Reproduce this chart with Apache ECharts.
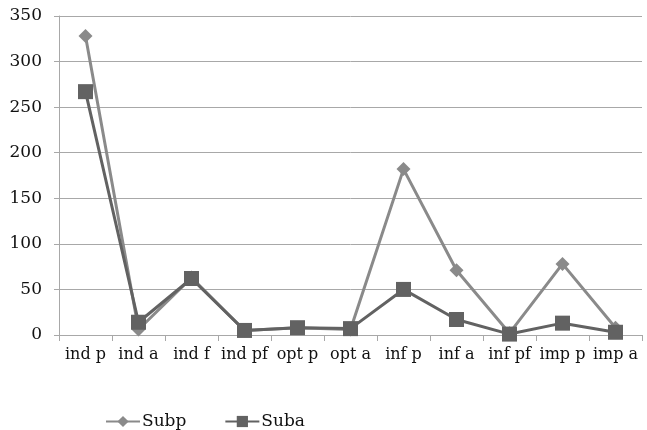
<!DOCTYPE html>
<html>
<head>
<meta charset="utf-8">
<script src="https://cdn.jsdelivr.net/npm/echarts@6/dist/echarts.min.js"></script>
<style>
  html, body { margin: 0; padding: 0; background: #fff; }
  #chart { width: 647px; height: 430px; }
</style>
</head>
<body>
<div id="chart"></div>
<script>
const categories = ['ind p', 'ind a', 'ind f', 'ind pf', 'opt p', 'opt a', 'inf p', 'inf a', 'inf pf', 'imp p', 'imp a'];
const subp = [328, 6, 63, 5, 8, 6, 182, 71, 2, 78, 8];
const suba = [267, 14, 62, 5, 8, 7, 50, 17, 1, 13, 3];
const yTicks = { min: 0, max: 350, interval: 50 };

const font = '"DejaVu Serif", "Liberation Serif", serif';
const chart = echarts.init(document.getElementById('chart'));
chart.setOption({
  animation: false,
  backgroundColor: '#fff',
  grid: { left: 59, right: 5, top: 16, bottom: 95 },
  legend: {
    left: 100, top: 408, itemGap: 38, itemWidth: 34, itemHeight: 14,
    textStyle: { fontFamily: font, fontSize: 17, color: '#111', padding: [0, 0, 0, -3] },
    data: ['Subp', 'Suba']
  },
  xAxis: {
    type: 'category', data: categories, boundaryGap: true,
    axisLine: { lineStyle: { color: '#a8a8a8', width: 1 } },
    axisTick: { show: true, length: 6, lineStyle: { color: '#a8a8a8' } },
    axisLabel: { fontFamily: font, fontSize: 16, color: '#111', margin: 12, interval: 0 }
  },
  yAxis: {
    type: 'value', min: yTicks.min, max: yTicks.max, interval: yTicks.interval,
    axisLine: { show: true, lineStyle: { color: '#a8a8a8' } },
    axisTick: { show: true, length: 5, lineStyle: { color: '#a8a8a8' } },
    splitLine: { lineStyle: { color: '#a8a8a8' } },
    axisLabel: { fontFamily: font, fontSize: 17, color: '#111', margin: 17 }
  },
  series: [
    {
      name: 'Subp', type: 'line', data: subp,
      symbol: 'diamond', symbolSize: 14,
      lineStyle: { color: '#8a8a8a', width: 3 },
      itemStyle: { color: '#8a8a8a' }
    },
    {
      name: 'Suba', type: 'line', data: suba,
      symbol: 'rect', symbolSize: 15,
      lineStyle: { color: '#626262', width: 3 },
      itemStyle: { color: '#626262' }
    }
  ]
});
</script>
</body>
</html>
